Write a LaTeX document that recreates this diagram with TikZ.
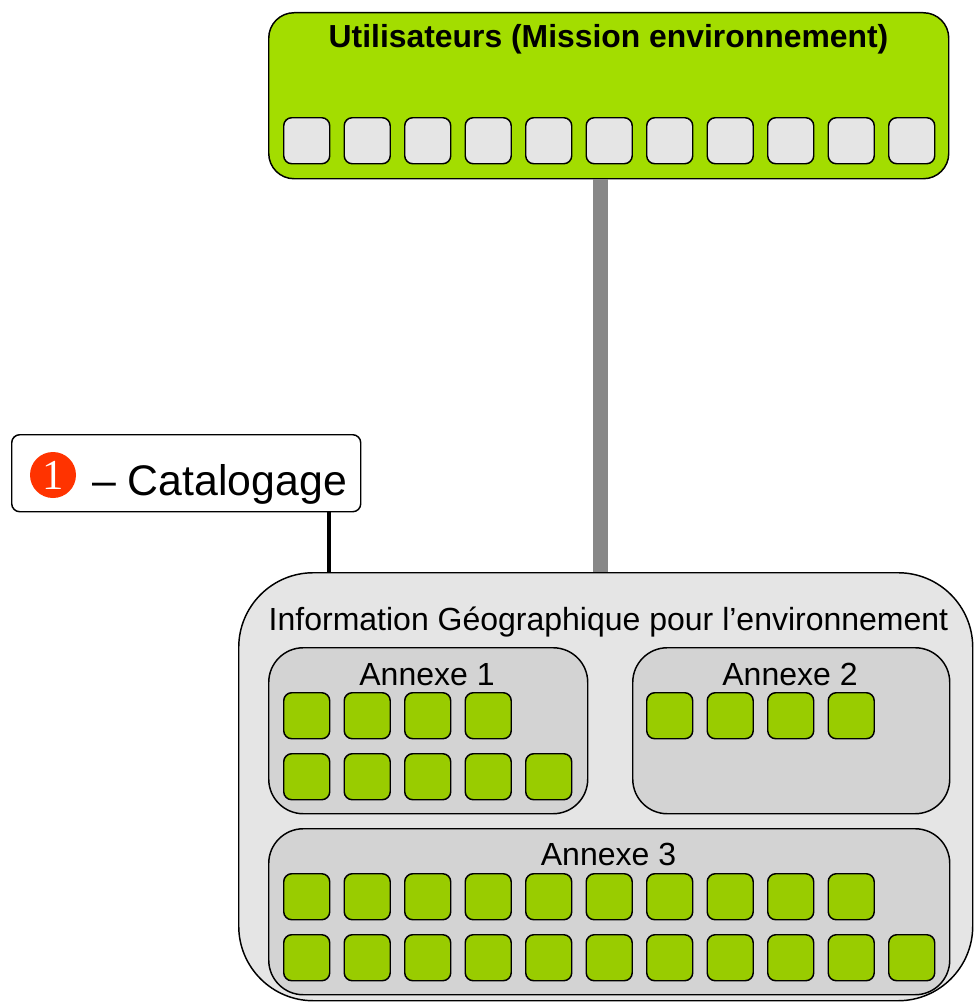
\documentclass[tikz,border=0pt]{standalone}
\usepackage{fontspec}
\setmainfont{Liberation Sans}
\setsansfont{Liberation Sans}
\newfontfamily\badgefont{Liberation Serif}
\usepackage{tikz}

\definecolor{usergreen}{HTML}{A3DD00}
\definecolor{tilegreen}{HTML}{99CC00}
\definecolor{tilegrey}{HTML}{E5E5E5}
\definecolor{annexgrey}{HTML}{D3D3D3}
\definecolor{trunkgrey}{HTML}{888888}
\definecolor{badgered}{HTML}{FF3300}
\newcommand{\pxu}{0.75pt}

\begin{document}
\begin{tikzpicture}[x=0.75pt, y=-0.75pt,
		panel/.style={draw, line width=1.1pt, inner sep=0pt, anchor=north west},
		tile/.style={draw, line width=1.1pt, rounded corners=6pt, minimum size=46*\pxu, inner sep=0pt, anchor=north west},
		usertile/.style={tile, fill=tilegrey},
		datatile/.style={tile, fill=tilegreen},
		caption/.style={anchor=base, inner sep=0pt, font=\fontsize{24}{28}\selectfont}]
	\useasboundingbox (0,0) rectangle (974,1006);
	% utilisateurs
	\node[panel, fill=usergreen, rounded corners=19pt, minimum width=680*\pxu, minimum height=166*\pxu] (users) at (268,12) {};
	\node[anchor=base, inner sep=0pt, font=\fontsize{23.9}{28}\selectfont\bfseries] (userstitle) at (608.5,48) {Utilisateurs (Mission environnement)};
	\foreach \i in {0,...,10}
		\node[usertile] (u\i) at (283+60.5*\i,117) {};
	% information geographique
	\node[panel, fill=tilegrey, rounded corners=56pt, minimum width=734*\pxu, minimum height=428*\pxu] (ige) at (238,572) {};
	\node[caption] (igetitle) at (608.5,630) {Information Géographique pour l’environnement};
	\node[panel, fill=annexgrey, rounded corners=26pt, minimum width=319*\pxu, minimum height=166*\pxu] (annex1) at (268,647) {};
	\node[panel, fill=annexgrey, rounded corners=26pt, minimum width=317*\pxu, minimum height=166*\pxu] (annex2) at (632,647) {};
	\node[panel, fill=annexgrey, rounded corners=26pt, minimum width=681*\pxu, minimum height=166*\pxu] (annex3) at (268,828) {};
	\node[caption] (annex1title) at (427,685) {Annexe 1};
	\node[caption] (annex2title) at (790,685) {Annexe 2};
	\node[caption] (annex3title) at (608.5,865) {Annexe 3};
	\foreach \i in {0,...,3}
		\node[datatile] (a\i) at (283+60.5*\i,692) {};
	\foreach \i in {0,...,4}
		\node[datatile] (b\i) at (283+60.5*\i,753) {};
	\foreach \i in {0,...,3}
		\node[datatile] (c\i) at (646+60.5*\i,692) {};
	\foreach \i in {0,...,9}
		\node[datatile] (d\i) at (283+60.5*\i,873) {};
	\foreach \i in {0,...,10}
		\node[datatile] (e\i) at (283+60.5*\i,934) {};
	% catalogage
	\node[panel, fill=white, rounded corners=6pt, minimum width=349*\pxu, minimum height=77*\pxu] (catalog) at (11,434) {};
	\node[circle, fill=badgered, minimum size=46*\pxu, inner sep=0pt, text=white, font=\badgefont\fontsize{32}{32}\selectfont] (badge) at (53,475) {1};
	\node[anchor=base west, inner sep=0pt, font=\fontsize{32.1}{38}\selectfont] (cattext) at (92,495) {– Catalogage};
	% liens
	\coordinate (trunk) at (600.5,0);
	\coordinate (twig) at (329,0);
	\draw[trunkgrey, line width=11pt] (users.south -| trunk) -- (ige.north -| trunk);
	\draw[line width=3pt] (catalog.south -| twig) -- (ige.north -| twig);
\end{tikzpicture}
\end{document}
